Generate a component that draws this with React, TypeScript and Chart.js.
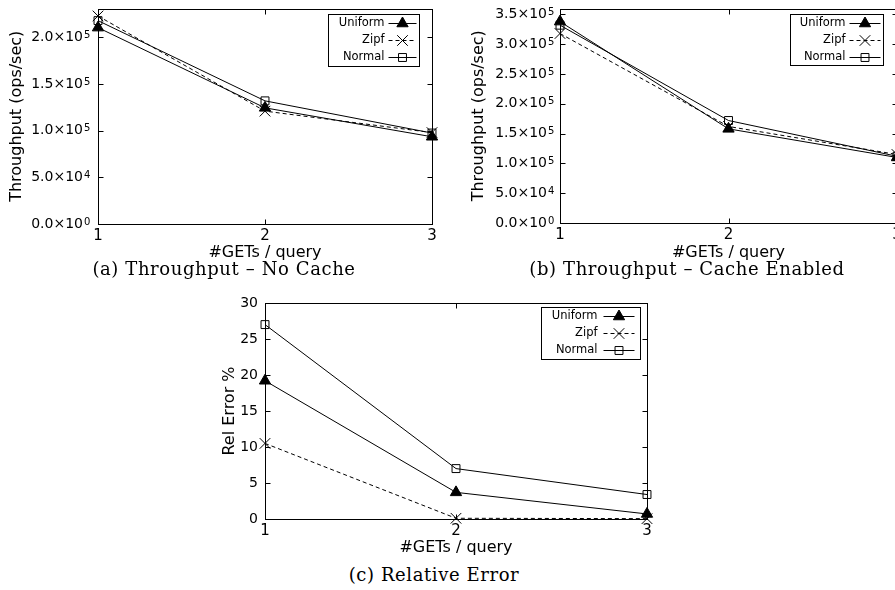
import React, { useEffect, useRef } from 'react';
import { Chart, registerables } from 'chart.js';
import { drawPoint } from 'chart.js/helpers';

Chart.register(...registerables);

// ---------- data ----------
const getsPerQuery = ['1', '2', '3'];
const seriesNames = ['Uniform', 'Zipf', 'Normal'];

const noCacheUniform = [210500, 124500, 93500];
const noCacheZipf = [223000, 121000, 98000];
const noCacheNormal = [218000, 132000, 97500];

const cacheUniform = [338000, 158000, 110000];
const cacheZipf = [318000, 162000, 115000];
const cacheNormal = [332000, 172000, 112000];

const relErrUniform = [19.2, 3.7, 0.7];
const relErrZipf = [10.5, 0.1, 0.05];
const relErrNormal = [27, 7, 3.4];

const noCacheTicks = [0, 50000, 100000, 150000, 200000];
const noCacheTickLabels = ['0.0×10', '5.0×10', '1.0×10', '1.5×10', '2.0×10'];
const noCacheTickExps = ['0', '4', '5', '5', '5'];
const cacheTicks = [0, 50000, 100000, 150000, 200000, 250000, 300000, 350000];
const cacheTickLabels = ['0.0×10', '5.0×10', '1.0×10', '1.5×10', '2.0×10', '2.5×10', '3.0×10', '3.5×10'];
const cacheTickExps = ['0', '4', '5', '5', '5', '5', '5', '5'];
const relErrTicks = [0, 5, 10, 15, 20, 25, 30];
const relErrTickLabels = ['0', '5', '10', '15', '20', '25', '30'];

// ---------- styles ----------
const FONT = "'DejaVu Sans', sans-serif";
const seriesStyles = [
  { pointStyle: 'triangle', radius: 6.5, fill: '#000', dash: [] as number[] },
  { pointStyle: 'crossRot', radius: 7.5, fill: 'rgba(0,0,0,0)', dash: [4, 3] },
  { pointStyle: 'rect', radius: 5.6, fill: 'rgba(0,0,0,0)', dash: [] as number[] },
];

const framePlugin = {
  id: 'frame',
  beforeDatasetsDraw(chart: any) {
    const { ctx, chartArea: a, scales } = chart;
    ctx.save();
    ctx.strokeStyle = '#000';
    ctx.lineWidth = 1;
    const L = Math.round(a.left) + 0.5;
    const R = Math.round(a.right) + 0.5;
    const T = Math.round(a.top) + 0.5;
    const B = Math.round(a.bottom) + 0.5;
    ctx.strokeRect(L, T, R - L, B - T);
    const tl = 5;
    ctx.beginPath();
    scales.y.ticks.forEach((t: any) => {
      const py = Math.round(scales.y.getPixelForValue(t.value)) + 0.5;
      ctx.moveTo(L, py); ctx.lineTo(L + tl, py);
      ctx.moveTo(R, py); ctx.lineTo(R - tl, py);
    });
    scales.x.ticks.forEach((_t: any, i: number) => {
      const px = Math.round(scales.x.getPixelForTick(i)) + 0.5;
      ctx.moveTo(px, B); ctx.lineTo(px, B - tl);
      ctx.moveTo(px, T); ctx.lineTo(px, T + tl);
    });
    ctx.stroke();
    ctx.restore();
  },
};

const expPlugin = {
  id: 'tickExps',
  afterDraw(chart: any, _args: any, opts: any) {
    if (!opts || !opts.exps) return;
    const { ctx, chartArea: a, scales } = chart;
    ctx.save();
    ctx.fillStyle = '#000';
    ctx.font = `10px ${FONT}`;
    ctx.textAlign = 'left';
    ctx.textBaseline = 'alphabetic';
    scales.y.ticks.forEach((t: any) => {
      const idx = opts.ticks.indexOf(t.value);
      if (idx < 0) return;
      const py = scales.y.getPixelForValue(t.value);
      ctx.fillText(opts.exps[idx], a.left - opts.pad + 1, py + 0.5);
    });
    ctx.restore();
  },
};

const boxLegendPlugin = {
  id: 'boxLegend',
  afterDraw(chart: any, _args: any, opts: any) {
    const { ctx, chartArea: a } = chart;
    const right = Math.round(a.right - opts.rightGap) + 0.5;
    const top = Math.round(a.top + opts.topGap) + 0.5;
    const left = right - opts.width;
    ctx.save();
    ctx.fillStyle = '#fff';
    ctx.fillRect(left, top, opts.width, opts.height);
    ctx.strokeStyle = '#000';
    ctx.lineWidth = 1;
    ctx.strokeRect(left, top, opts.width, opts.height);
    ctx.font = `11.5px ${FONT}`;
    ctx.textAlign = 'right';
    ctx.textBaseline = 'middle';
    seriesNames.forEach((name, i) => {
      const st = seriesStyles[i];
      const y = Math.round(top + 8.5 + i * 17) + 0.5;
      ctx.fillStyle = '#000';
      ctx.fillText(name, right - opts.textGap, y);
      ctx.beginPath();
      ctx.setLineDash(st.dash);
      ctx.moveTo(right - opts.sampleStart, y);
      ctx.lineTo(right - opts.sampleEnd, y);
      ctx.stroke();
      ctx.setLineDash([]);
      const mx = right - (opts.sampleStart + opts.sampleEnd) / 2;
      ctx.fillStyle = st.fill;
      drawPoint(ctx, { pointStyle: st.pointStyle as any, radius: st.radius, rotation: 0, borderWidth: 1 }, mx, y);
    });
    ctx.restore();
  },
};

type PanelProps = {
  series: number[][];
  ticks: number[];
  tickLabels: string[];
  tickExps?: string[];
  yMax: number;
  yTitle: string;
  width: number;
  height: number;
  padRight: number;
  padTop: number;
  yAxisWidth: number;
  xAxisHeight: number;
  yTitlePad: number;
  yTickPad: number;
  legend: any;
};

function Panel(p: PanelProps) {
  const ref = useRef<HTMLCanvasElement | null>(null);
  useEffect(() => {
    if (!ref.current) return;
    const chart = new Chart(ref.current, {
      type: 'line',
      data: {
        labels: getsPerQuery,
        datasets: p.series.map((vals, i) => ({
          label: seriesNames[i],
          data: vals,
          borderColor: '#000',
          borderWidth: 1,
          borderDash: seriesStyles[i].dash,
          pointStyle: seriesStyles[i].pointStyle as any,
          pointRadius: seriesStyles[i].radius,
          pointBorderWidth: 1,
          pointBorderColor: '#000',
          pointBackgroundColor: seriesStyles[i].fill,
          fill: false,
          tension: 0,
          clip: false as any,
        })),
      },
      options: {
        responsive: false,
        animation: false,
        layout: { padding: { left: 0, right: p.padRight, top: p.padTop, bottom: 0 } },
        plugins: {
          legend: { display: false },
          tooltip: { enabled: false },
          boxLegend: p.legend,
          tickExps: { exps: p.tickExps, ticks: p.ticks, pad: p.yTickPad },
        } as any,
        scales: {
          x: {
            type: 'category',
            offset: false,
            grid: { display: false, drawTicks: false },
            border: { display: false },
            ticks: { color: '#000', font: { family: FONT, size: 15 }, padding: 3, maxRotation: 0, autoSkip: false },
            title: { display: true, text: '#GETs / query', color: '#000', font: { family: FONT, size: 16 }, padding: 0 },
            afterFit(s: any) {
              s.height = p.xAxisHeight;
              s.paddingLeft = 0;
              s.paddingRight = 0;
            },
          },
          y: {
            type: 'linear',
            min: 0,
            max: p.yMax,
            grid: { display: false, drawTicks: false },
            border: { display: false },
            afterBuildTicks(s: any) { s.ticks = p.ticks.map((v) => ({ value: v })); },
            ticks: {
              color: '#000',
              font: { family: FONT, size: 14 },
              padding: p.yTickPad,
              callback: (v: any) => p.tickLabels[p.ticks.indexOf(Number(v))] ?? '',
            },
            title: { display: true, text: p.yTitle, color: '#000', font: { family: FONT, size: 16 }, padding: { top: p.yTitlePad, bottom: 0 } },
            afterFit(s: any) {
              s.width = p.yAxisWidth;
              s.paddingTop = 0;
              s.paddingBottom = 0;
            },
          },
        },
      },
      plugins: [framePlugin, expPlugin, boxLegendPlugin],
    } as any);
    return () => chart.destroy();
  }, []);
  return <canvas ref={ref} width={p.width} height={p.height} style={{ width: p.width, height: p.height, display: 'block' }} />;
}

const captionStyle: React.CSSProperties = {
  position: 'absolute',
  transform: 'translate(-50%, -50%)',
  whiteSpace: 'nowrap',
  fontFamily: "'DejaVu Serif', serif",
  fontSize: 18,
  letterSpacing: 0.6,
  color: '#000',
  lineHeight: 1,
};

export default function App() {
  return (
    <div style={{ position: 'fixed', left: 0, top: 0, width: 895, height: 590, background: '#fff', overflow: 'hidden' }}>
      <div style={{ position: 'absolute', left: 0, top: 0 }}>
        <Panel
          series={[noCacheUniform, noCacheZipf, noCacheNormal]}
          ticks={noCacheTicks}
          tickLabels={noCacheTickLabels}
          tickExps={noCacheTickExps}
          yMax={231000}
          yTitle="Throughput (ops/sec)"
          width={450}
          height={262}
          padRight={18}
          padTop={7}
          yAxisWidth={98}
          xAxisHeight={38}
          yTitlePad={7}
          yTickPad={15}
          legend={{ rightGap: 13, topGap: 5, width: 91, height: 52, textGap: 35, sampleStart: 31, sampleEnd: 3 }}
        />
      </div>
      <div style={{ position: 'absolute', left: 450, top: 0 }}>
        <Panel
          series={[cacheUniform, cacheZipf, cacheNormal]}
          ticks={cacheTicks}
          tickLabels={cacheTickLabels}
          tickExps={cacheTickExps}
          yMax={360000}
          yTitle="Throughput (ops/sec)"
          width={470}
          height={262}
          padRight={23}
          padTop={7}
          yAxisWidth={110}
          xAxisHeight={39}
          yTitlePad={19}
          yTickPad={13}
          legend={{ rightGap: 14, topGap: 5, width: 93, height: 51, textGap: 38, sampleStart: 34, sampleEnd: 3 }}
        />
      </div>
      <div style={{ position: 'absolute', left: 210, top: 290 }}>
        <Panel
          series={[relErrUniform, relErrZipf, relErrNormal]}
          ticks={relErrTicks}
          tickLabels={relErrTickLabels}
          yMax={30}
          yTitle="Rel Error %"
          width={460}
          height={267}
          padRight={23}
          padTop={13}
          yAxisWidth={55}
          xAxisHeight={38}
          yTitlePad={10}
          yTickPad={7}
          legend={{ rightGap: 7, topGap: 4, width: 99, height: 52, textGap: 43, sampleStart: 37, sampleEnd: 6 }}
        />
      </div>
      <div style={{ ...captionStyle, left: 224, top: 269 }}>(a) Throughput – No Cache</div>
      <div style={{ ...captionStyle, left: 687, top: 269 }}>(b) Throughput – Cache Enabled</div>
      <div style={{ ...captionStyle, left: 434, top: 575 }}>(c) Relative Error</div>
    </div>
  );
}
